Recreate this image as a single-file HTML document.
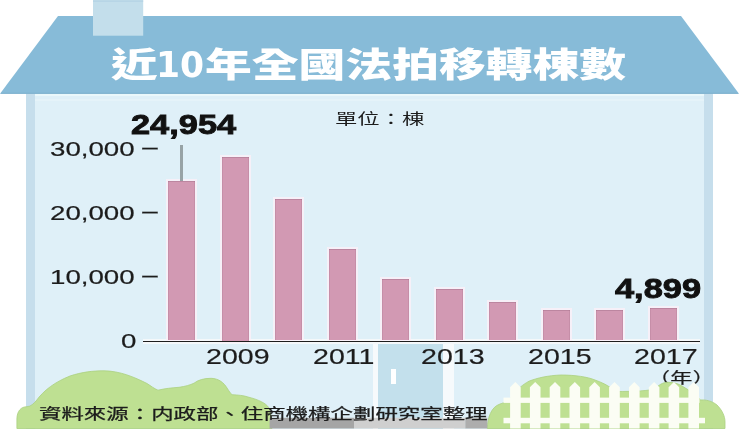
<!DOCTYPE html>
<html><head><meta charset="utf-8">
<style>
html,body{margin:0;padding:0;background:#fff;}
#c{position:relative;width:740px;height:430px;overflow:hidden;background:#fff;}
.a{position:absolute;}
.t{position:absolute;white-space:nowrap;transform-origin:0 0;line-height:1;}
.cjk{font-family:"Liberation Sans","Noto Sans CJK TC",sans-serif;}
.num{font-family:"Liberation Sans",sans-serif;}
.bar{position:absolute;background:#d299b3;width:27px;box-shadow:0 0 0 2px rgba(250,240,248,.85), inset 0 1px 0 0 rgba(150,100,125,.35), inset 1px 0 0 0 rgba(150,100,125,.2), inset -1px 0 0 0 rgba(150,100,125,.2);}
.yl{font-size:21px;color:#1c1c1c;transform:scaleX(1.318);-webkit-text-stroke:0.2px #1c1c1c;}
.xl{font-size:21.8px;color:#1c1c1c;transform:scaleX(1.31);-webkit-text-stroke:0.2px #1c1c1c;}
.big{font-size:27.5px;font-weight:bold;color:#111;transform:scaleX(1.25);-webkit-text-stroke:0.9px #111;}
</style></head><body>
<div id="c">
<!-- house wall -->
<div class="a" style="left:26px;top:93px;width:687px;height:335.5px;background:#dff0f8;"></div>
<div class="a" style="left:35px;top:93.5px;width:669px;height:2.6px;background:#eaf8fb;"></div>
<div class="a" style="left:35px;top:99.3px;width:669px;height:1.8px;background:#e5f3f9;"></div>
<div class="a" style="left:26px;top:93px;width:9px;height:335.5px;background:#c6deec;"></div>
<div class="a" style="left:704px;top:93px;width:9px;height:335.5px;background:#c6deec;"></div>
<!-- roof -->
<svg class="a" style="left:0;top:0" width="740" height="430">
<polygon points="58,16 681,16 739,93.8 0,93.8" fill="#87bbd8"/>
<polygon points="1.3,92.8 737.7,92.8 738.5,93.8 0.5,93.8" fill="#7eb0cc"/>
<rect x="93" y="0" width="50.2" height="35.7" fill="#c3deeb"/>
<rect x="93" y="0.5" width="50.2" height="1.2" fill="#b3d2e4"/>
</svg>
<!-- title -->
<div class="t cjk" style="left:111.4px;top:48px;font-size:34.6px;font-weight:900;color:#fff;transform:scaleX(1.35);">近</div>
<div class="t" style="left:156.2px;top:47.1px;font-family:'DejaVu Sans',sans-serif;font-size:36px;font-weight:bold;color:#fff;transform:scaleX(0.96);">10</div>
<div class="t cjk" style="left:204.9px;top:48.3px;font-size:34.6px;font-weight:900;color:#fff;transform:scaleX(1.353);">年全國法拍移轉棟數</div>
<div class="t cjk" style="left:335px;top:111px;font-size:15px;color:#1c1c1c;transform:scaleX(1.49);">單位：棟</div>

<!-- y axis labels -->
<div class="t num yl" style="left:50px;top:138px;">30,000 <span style="position:relative;top:-1.9px">–</span></div>
<div class="t num yl" style="left:50px;top:202.2px;">20,000 <span style="position:relative;top:-1.9px">–</span></div>
<div class="t num yl" style="left:50px;top:266px;">10,000 <span style="position:relative;top:-1.9px">–</span></div>
<div class="t num yl" style="left:120.5px;top:330px;">0</div>

<!-- bars -->
<div class="a" style="left:142.7px;top:338.9px;width:557px;height:4.9px;background:#f4f8fa;"></div>
<div class="bar" style="left:168.1px;top:180.8px;height:159.7px;"></div>
<div class="bar" style="left:221.6px;top:157.0px;height:183.5px;"></div>
<div class="bar" style="left:275.2px;top:198.8px;height:141.7px;"></div>
<div class="bar" style="left:328.7px;top:249.1px;height:91.4px;"></div>
<div class="bar" style="left:382.2px;top:278.8px;height:61.7px;"></div>
<div class="bar" style="left:435.8px;top:288.6px;height:51.9px;"></div>
<div class="bar" style="left:489.3px;top:301.8px;height:38.7px;"></div>
<div class="bar" style="left:542.8px;top:310.3px;height:30.2px;"></div>
<div class="bar" style="left:596.3px;top:310.1px;height:30.4px;"></div>
<div class="bar" style="left:649.9px;top:308.4px;height:32.1px;"></div>
<!-- leader -->
<div class="a" style="left:180.2px;top:144.6px;width:2.6px;height:36.2px;background:#97a3a6;"></div>
<!-- axis -->
<div class="a" style="left:142.7px;top:340.5px;width:557px;height:1.7px;background:#1e1e1e;"></div>

<div class="t num big" style="left:131px;top:110.5px;">24,954</div>
<div class="t num big" style="left:614.5px;top:275px;">4,899</div>

<!-- door -->
<div class="a" style="left:373px;top:343.5px;width:81px;height:85px;background:#f6fafc;"></div>
<div class="a" style="left:378.4px;top:343.5px;width:64.4px;height:85px;background:#c3e0ec;"></div>
<div class="a" style="left:391px;top:369.4px;width:4.6px;height:14.5px;background:#fff;"></div>

<!-- x labels -->
<div class="t num xl" style="left:206px;top:345.5px;">2009</div>
<div class="t num xl" style="left:313px;top:345.5px;">2011</div>
<div class="t num xl" style="left:420.6px;top:345.5px;">2013</div>
<div class="t num xl" style="left:527.6px;top:345.5px;">2015</div>
<div class="t num xl" style="left:634px;top:345.5px;">2017</div>
<div class="t cjk" style="left:647.5px;top:370px;font-size:15px;color:#1c1c1c;transform:scaleX(1.48);-webkit-text-stroke:0.2px #1c1c1c;">（年）</div>

<!-- bushes / fence -->
<svg class="a" style="left:0;top:0" width="740" height="430">
<g fill="#bee092" stroke="#abd180" stroke-width="0.8">
<path d="M16.9,428.5 L16.9,419 C17,411 21,406.7 27,406.7 C31,406.7 34,403 36,401 C44,390 55,382 70,376 C82,372 93,370.8 104,370.8 C120,371 134,377 147,383.5 C151,386 154,388.5 158,390.2 C165,388.5 172,387.8 179,387.3 C185,386.5 190,385 194,383.2 C198,380 204,378.3 211,378.3 C219,378.5 224,383 227,388 C229,391 230.5,393.5 232,394.7 C238,395 244,395.5 248,397 C258,399.5 266,403 269,408 C271,413 272,420 272,428.5 Z"/>
<path d="M487.3,428.5 C487.5,418 491,407 500,404 C505,402.5 510,400 514,394 C518,389 522,385 529,381.2 C537,378 548,375.5 561,375 C575,375 588,377 595,380 C602,382.5 607,385 611,388 L612,391.5 C625,391.5 645,391.5 655,389 C659,385 662,382.5 668,382.3 C674,382.3 679,384 682,386 C685,388 689,390 692,392.5 L699,398 L700,400 C706,399.5 712,401 717,405 C722,410 725,416 725,422 L725,428.5 Z"/>
</g>
<rect x="269.6" y="417.8" width="84.4" height="10.7" fill="#a5a5a5"/>
<rect x="354" y="417.8" width="111.3" height="10.7" fill="#cfcfcf"/>
<rect x="465.3" y="417.8" width="22" height="10.7" fill="#adadad"/>
<g fill="#fbfdf4">
<rect x="503.5" y="397.6" width="196" height="5.3"/>
<rect x="503.5" y="417.8" width="201.5" height="5.5"/>
<path d="M510.1,428.5 L510.1,387.2 L515.4,382 L520.7,387.2 L520.7,428.5 Z"/>
<path d="M529.9,428.5 L529.9,387.2 L535.2,382 L540.5,387.2 L540.5,428.5 Z"/>
<path d="M549.7,428.5 L549.7,387.2 L555.0,382 L560.3,387.2 L560.3,428.5 Z"/>
<path d="M569.5,428.5 L569.5,387.2 L574.8,382 L580.1,387.2 L580.1,428.5 Z"/>
<path d="M589.3,428.5 L589.3,387.2 L594.6,382 L599.9,387.2 L599.9,428.5 Z"/>
<path d="M609.1,428.5 L609.1,387.2 L614.5,382 L619.8,387.2 L619.8,428.5 Z"/>
<path d="M629.0,428.5 L629.0,387.2 L634.3,382 L639.6,387.2 L639.6,428.5 Z"/>
<path d="M648.8,428.5 L648.8,387.2 L654.1,382 L659.4,387.2 L659.4,428.5 Z"/>
<path d="M668.6,428.5 L668.6,387.2 L673.9,382 L679.2,387.2 L679.2,428.5 Z"/>
<path d="M688.4,428.5 L688.4,387.2 L693.7,382 L699.0,387.2 L699.0,428.5 Z"/>
</g>
</svg>
<div class="t cjk" style="left:39.3px;top:406px;font-size:15px;color:#1c1c1c;transform:scaleX(1.495);-webkit-text-stroke:0.25px #1c1c1c;">資料來源：内政部、住商機構企劃研究室整理</div>
</div>
</body></html>
